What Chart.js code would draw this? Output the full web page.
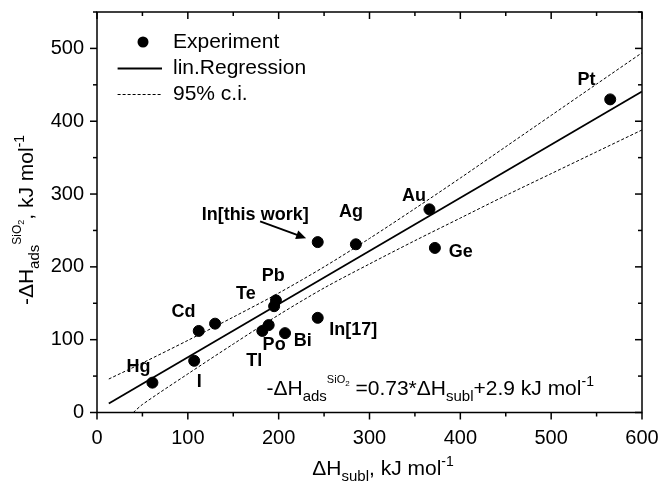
<!DOCTYPE html>
<html><head><meta charset="utf-8">
<script src="https://cdn.jsdelivr.net/npm/chart.js@4"></script>
<style>html,body{margin:0;padding:0;background:#fff}</style>
</head><body>
<canvas id="c" width="661" height="485"></canvas>
<script>
// ---- data ----
const elementNames = ['Hg','I','Cd','Zn','Tl','Po','Te','Pb','Bi','In[17]','In[this work]','Ag','Au','Ge','Pt'];
const subl = [61, 107, 112, 130, 182, 189, 195, 197, 207, 243, 243, 285, 366, 372, 565];
const ads  = [41, 71, 112, 122, 112, 120, 146, 154, 109, 130, 234, 231, 279, 226, 430];
const fitX = [13, 600];
const fitY = [12.4, 440.9];
const ciUpperX = [13, 50, 100, 150, 200, 250, 300, 350, 400, 450, 500, 550, 600];
const ciUpperY = [46, 68, 99, 131, 164, 200, 239, 280, 322, 365, 408, 451, 494];
const ciLowerX = [40, 50, 100, 150, 200, 250, 300, 350, 400, 450, 500, 550, 600];
const ciLowerY = [0, 11, 53, 94, 134, 171, 204, 236, 267, 298, 328, 358, 388];
const xTickValues = [0, 100, 200, 300, 400, 500, 600];
const yTickValues = [0, 100, 200, 300, 400, 500];
const legendTexts = ['Experiment', 'lin.Regression', '95% c.i.'];
// point labels: text and anchor in data units
const labelTexts = ['Hg','I','Cd','Te','Pb','Tl','Po','Bi','In[17]','In[this work]','Ag','Au','Ge','Pt'];
const labelAt = [[45.7,62.8],[112.5,42.2],[95.2,137.4],[163.9,162.6],[193.9,187.2],[173,70.6],[195,92.6],[226.5,98.1],[282.2,113.2],[174.1,270.6],[279.7,275],[349,296.6],[400.6,219.8],[538.9,457.1]];
const arrowFrom = [179.6, 262.5], arrowTo = [230.2, 239.4];
const eqAt = [186.6, 24];

const FF = '"Liberation Sans", Arial, Helvetica, sans-serif';
const pts = (xs, ys) => xs.map((v, i) => ({x: v, y: ys[i]}));

function richWidth(ctx, segs){
  let w = 0;
  for (const s of segs){ ctx.font = (s[3]||'') + ' ' + s[1] + 'px ' + FF; w += ctx.measureText(s[0]).width; }
  return w;
}
function richDraw(ctx, segs, x, y){
  let cx = x;
  ctx.textBaseline = 'alphabetic'; ctx.textAlign = 'left';
  for (const s of segs){
    ctx.font = (s[3]||'') + ' ' + s[1] + 'px ' + FF;
    ctx.fillText(s[0], cx, y + s[2]);
    cx += ctx.measureText(s[0]).width;
  }
}

const deco = {
  id: 'deco',
  afterDraw(chart){
    const {ctx, chartArea: a, scales: {x, y}} = chart;
    ctx.save();
    ctx.strokeStyle = '#000'; ctx.fillStyle = '#000';
    ctx.lineWidth = 1.5;
    ctx.strokeRect(a.left, a.top, a.right - a.left, a.bottom - a.top);
    const seg = (x1, y1, x2, y2) => { ctx.beginPath(); ctx.moveTo(x1, y1); ctx.lineTo(x2, y2); ctx.stroke(); };
    x.ticks.forEach((t, i) => {
      const px = x.getPixelForTick(i);
      const L = (t.value % 100 === 0) ? 7 : 4;
      seg(px, a.bottom, px, a.bottom + L);
      seg(px, a.top, px, a.top + L);
    });
    y.ticks.forEach((t, i) => {
      const py = y.getPixelForTick(i);
      const L = (t.value % 100 === 0) ? 7 : 4;
      seg(a.left - L, py, a.left, py);
      seg(a.right - L, py, a.right, py);
    });
    // axis titles
    const xt = [['ΔH',21,0],['subl',15,6],[', kJ mol',21,0],['-1',14,-9]];
    const xw = richWidth(ctx, xt);
    richDraw(ctx, xt, 383 - xw/2, 475);
    const yt = [['-ΔH',21,0],['ads',15,6],['SiO',12,-12],['2',9,-9],[', kJ mol',21,0],['-1',14,-9]];
    const yw = richWidth(ctx, yt);
    ctx.save();
    ctx.translate(33, 220);
    ctx.rotate(-Math.PI/2);
    richDraw(ctx, yt, -yw/2, 0);
    ctx.restore();
    // legend
    const lx = a.left, ly = a.top;
    ctx.beginPath(); ctx.arc(lx + 46, ly + 30, 5.5, 0, Math.PI*2); ctx.fill();
    ctx.lineWidth = 1.8;
    seg(lx + 20.6, ly + 56.5, lx + 65, ly + 56.5);
    ctx.lineWidth = 1; ctx.setLineDash([3, 2]);
    seg(lx + 20.6, ly + 82.5, lx + 65, ly + 82.5);
    ctx.setLineDash([]);
    ctx.font = '21px ' + FF; ctx.textBaseline = 'middle'; ctx.textAlign = 'left';
    ctx.fillText(legendTexts[0], lx + 76, ly + 30);
    ctx.fillText(legendTexts[1], lx + 76, ly + 56.5);
    ctx.fillText(legendTexts[2], lx + 76, ly + 82.5);
    // point labels
    ctx.font = 'bold 18px ' + FF; ctx.textAlign = 'center'; ctx.textBaseline = 'middle';
    labelTexts.forEach((t, i) => {
      ctx.fillText(t, x.getPixelForValue(labelAt[i][0]), y.getPixelForValue(labelAt[i][1]));
    });
    // arrow
    const ax1 = x.getPixelForValue(arrowFrom[0]), ay1 = y.getPixelForValue(arrowFrom[1]);
    const ax2 = x.getPixelForValue(arrowTo[0]), ay2 = y.getPixelForValue(arrowTo[1]);
    ctx.lineWidth = 2;
    const ang = Math.atan2(ay2 - ay1, ax2 - ax1);
    seg(ax1, ay1, ax2 - 6*Math.cos(ang), ay2 - 6*Math.sin(ang));
    ctx.beginPath();
    ctx.moveTo(ax2, ay2);
    ctx.lineTo(ax2 - 10*Math.cos(ang) + 4.5*Math.sin(ang), ay2 - 10*Math.sin(ang) - 4.5*Math.cos(ang));
    ctx.lineTo(ax2 - 10*Math.cos(ang) - 4.5*Math.sin(ang), ay2 - 10*Math.sin(ang) + 4.5*Math.cos(ang));
    ctx.closePath(); ctx.fill();
    // equation
    const eq = [['-ΔH',21,0],['ads',15,6],['SiO',11,-12],['2',8,-9],[' =0.73*ΔH',21,0],['subl',15,6],['+2.9 kJ mol',21,0],['-1',14,-9]];
    richDraw(ctx, eq, x.getPixelForValue(eqAt[0]), y.getPixelForValue(eqAt[1]));
    ctx.restore();
  }
};

new Chart(document.getElementById('c'), {
  type: 'scatter',
  data: {
    datasets: [
      { label: legendTexts[0], data: pts(subl, ads), backgroundColor: '#000', borderColor: '#000', pointRadius: 5.5, pointHoverRadius: 5.5, showLine: false, order: 0 },
      { label: legendTexts[1], data: pts(fitX, fitY), borderColor: '#000', borderWidth: 1.8, pointRadius: 0, showLine: true, order: 1 },
      { label: legendTexts[2], data: pts(ciUpperX, ciUpperY), borderColor: '#000', borderWidth: 1, borderDash: [3, 2], pointRadius: 0, showLine: true, tension: 0.3, order: 2 },
      { label: legendTexts[2] + ' lower', data: pts(ciLowerX, ciLowerY), borderColor: '#000', borderWidth: 1, borderDash: [3, 2], pointRadius: 0, showLine: true, tension: 0.3, order: 2 }
    ]
  },
  options: {
    responsive: false,
    animation: false,
    devicePixelRatio: 1,
    layout: { padding: { top: 12, right: 19, left: 0, bottom: 0 } },
    plugins: { legend: { display: false }, tooltip: { enabled: false } },
    scales: {
      x: {
        type: 'linear', min: 0, max: 600,
        grid: { display: false, drawTicks: false },
        border: { display: false },
        ticks: { stepSize: 50, padding: 14, color: '#000', font: { family: FF, size: 20 }, maxRotation: 0, autoSkip: false,
                 callback: v => xTickValues.includes(v) ? String(v) : '' },
        afterFit: s => { s.height = 72.5; s.paddingLeft = 0; s.paddingRight = 0; }
      },
      y: {
        type: 'linear', min: 0, max: 550,
        grid: { display: false, drawTicks: false },
        border: { display: false },
        ticks: { stepSize: 50, padding: 13, color: '#000', font: { family: FF, size: 20 }, autoSkip: false,
                 callback: v => yTickValues.includes(v) ? String(v) : '' },
        afterFit: s => { s.width = 97; s.paddingTop = 0; s.paddingBottom = 0; }
      }
    }
  },
  plugins: [deco]
});
</script>
</body></html>
